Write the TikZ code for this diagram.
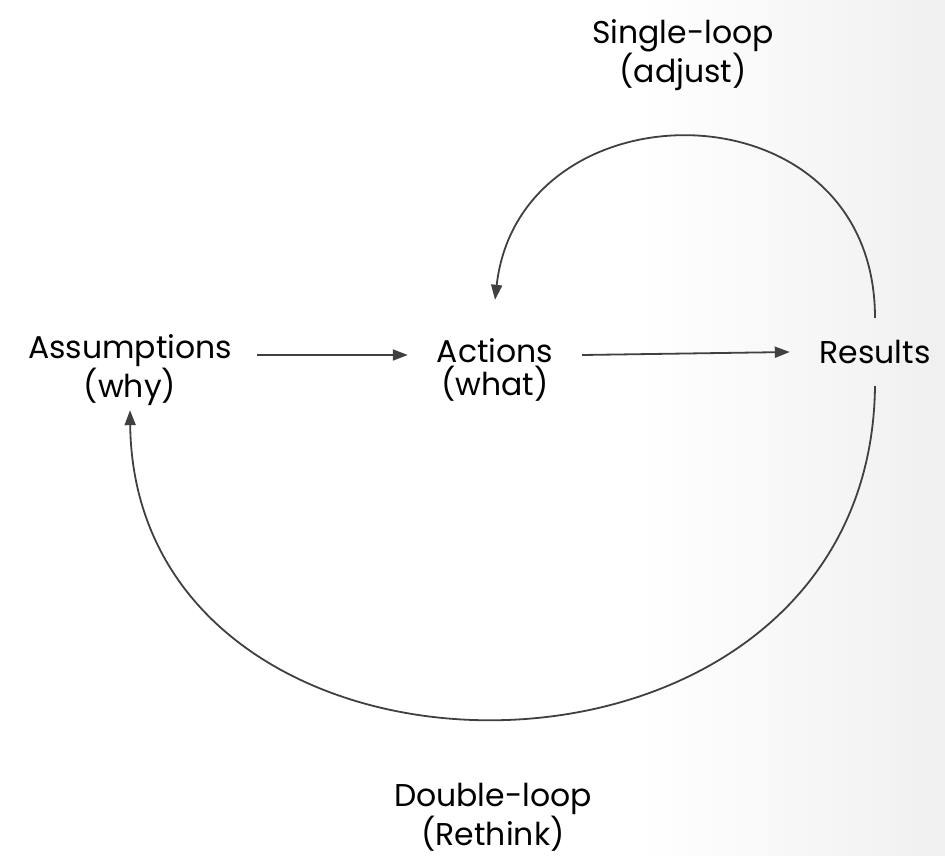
\documentclass[tikz,border=0pt]{standalone}
\usepackage{fontspec}
\setmainfont{Poppins}
\usetikzlibrary{arrows.meta}
\begin{document}
\begin{tikzpicture}[x=1pt,y=-1pt,
  lbl/.style={align=center,font=\fontsize{31.5}{33}\selectfont,text=black,inner sep=0pt},
  arr/.style={draw=black!75,line width=1.8pt,-{Triangle[length=15pt,width=11pt]}}]
\useasboundingbox (0,0) rectangle (945,856);
\fill[white] (0,0) rectangle (945,856);
\shade[left color=white,right color=black!6] (640,0) rectangle (945,856);
\node[lbl,minimum width=254pt,minimum height=80pt] (ass) at (130,370) {Assumptions\\(why)};
\node[lbl,minimum width=174pt,minimum height=140pt] (act) at (495,370) {Actions\\(what)};
\node[lbl,minimum width=170pt,minimum height=68pt] (res) at (875,352) {Results};
\node[lbl] (single) at (683,55) {Single-loop\\(adjust)};
\node[lbl] (double) at (493,817) {Double-loop\\(Rethink)};
\draw[arr] ([yshift=15pt]ass.east) -- ([yshift=15pt]act.west);
\draw[arr] ([yshift=15pt]act.east) -- (res.west);
\draw[arr] (res.north) .. controls (875,80) and (520,80) .. (act.north);
\draw[arr] (res.south) .. controls (870,825) and (135,825) .. (ass.south);
\end{tikzpicture}
\end{document}
